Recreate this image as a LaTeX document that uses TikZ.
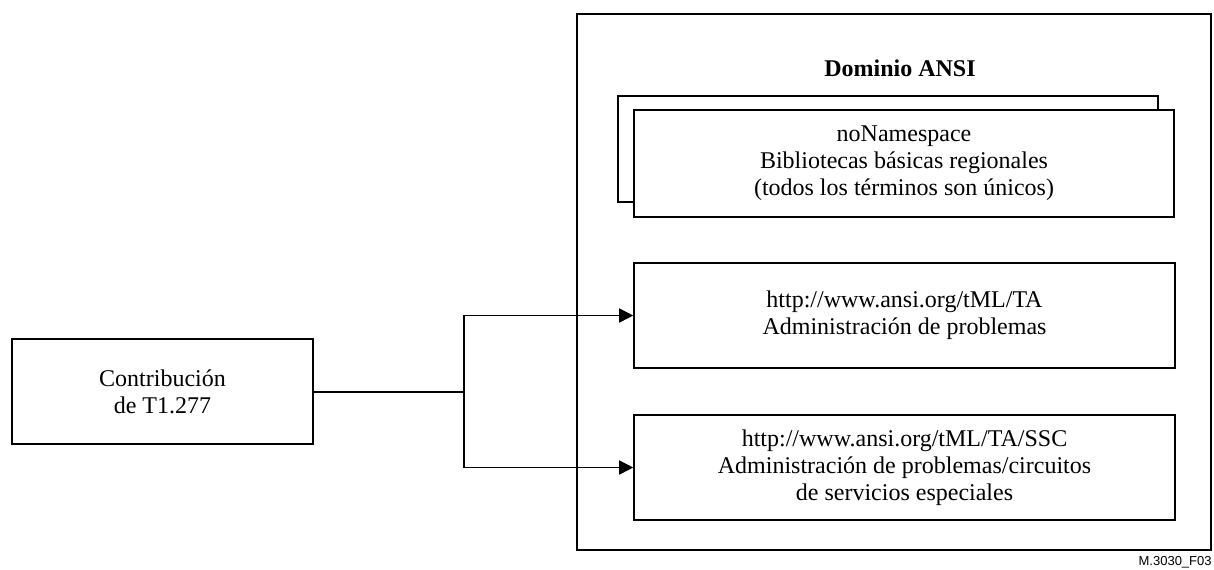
\documentclass[tikz,border=0pt]{standalone}
\usepackage{fontspec}
\setmainfont{Liberation Serif}
\newfontfamily\figfont{Liberation Sans}
\usetikzlibrary{arrows.meta}
\begin{document}
\begin{tikzpicture}[x=0.5pt,y=-0.5pt,
	box/.style={draw,line width=0.8pt,align=center,inner sep=0pt,
		font=\fontsize{12}{13.5}\selectfont},
	link/.style={line width=0.8pt,-{Triangle[length=7pt,width=7pt]}}]
	\useasboundingbox (0,0) rectangle (1214,569);
	\node [box,minimum width=317pt,minimum height=268pt] (dom) at (894,282) {};
	\node [font=\fontsize{12}{13.5}\selectfont\bfseries] (domtitle) at (900,68) {Dominio ANSI};
	\node [box,fill=white,minimum width=270pt,minimum height=53pt] (back) at (888,149) {};
	\node [box,fill=white,minimum width=270pt,minimum height=53.5pt] (front) at (904,163.5)
		{noNamespace\\Bibliotecas b\'asicas regionales\\(todos los t\'erminos son \'unicos)};
	\node [box,minimum width=270.5pt,minimum height=52.5pt] (ta) at (904.5,315.5)
		{http://www.ansi.org/tML/TA\\Administraci\'on de problemas};
	\node [box,minimum width=270.5pt,minimum height=52.5pt] (ssc) at (904.5,467.5)
		{http://www.ansi.org/tML/TA/SSC\\Administraci\'on de problemas/circuitos\\de servicios especiales};
	\node [box,minimum width=150.5pt,minimum height=52.5pt] (contrib) at (162.5,391.5)
		{Contribuci\'on\\de T1.277};
	\coordinate (split) at (464,391.5);
	\draw [line width=1pt] (contrib) -- (split);
	\draw [link] (split) |- (ta);
	\draw [link] (split) |- (ssc);
	\node [anchor=east,inner sep=0pt,font=\figfont\fontsize{6.5}{7.5}\selectfont] (fig) at (1212,562) {M.3030\_F03};
\end{tikzpicture}
\end{document}
